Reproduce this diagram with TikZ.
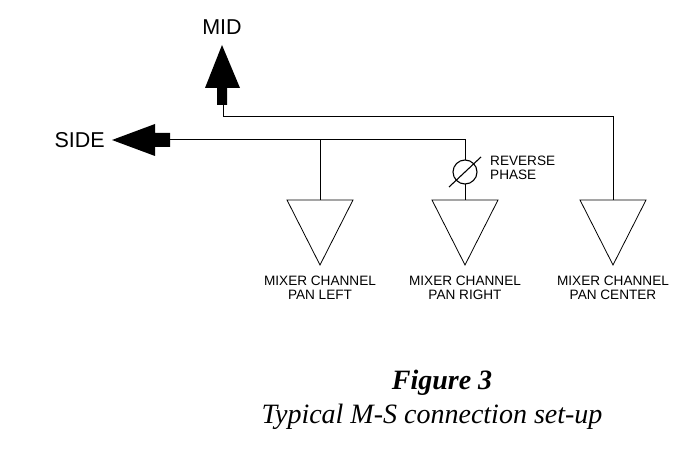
\documentclass[tikz,border=0pt]{standalone}
\usepackage{fontspec}
\setmainfont{Liberation Serif}
\newfontfamily\lsans{Liberation Sans}
\begin{document}
\begin{tikzpicture}[x=1pt,y=-1pt,
  wire/.style={line width=1pt},
  tri/.style={draw,line width=0.8pt},
  lbl/.style={font=\lsans\fontsize{13.6}{14.5}\selectfont,align=center,inner sep=0pt},
  big/.style={font=\lsans\fontsize{21.5}{22}\selectfont,inner sep=0pt}]
\useasboundingbox (0,0) rectangle (695,462);
% MID arrow
\fill (222,45) -- (240,88) -- (227,88) -- (227,105) -- (217,105) -- (217,88) -- (205,88) -- cycle;
\coordinate (mid) at (223,105);
\node[big] (midl) at (222,27) {MID};
% SIDE arrow
\fill (112,140) -- (155,124) -- (155,133) -- (170,133) -- (170,147) -- (155,147) -- (155,156) -- cycle;
\coordinate (side) at (170,140);
\node[big,anchor=east] (sidel) at (105,140) {SIDE};
% triangles
\foreach \n/\c in {l/320,r/465,c/613}{
  \draw[tri] (\c-33,200) -- (\c+33,200) -- (\c,265) -- cycle;
  \coordinate (\n) at (\c,200);
}
\coordinate (lj) at (320,140);
\coordinate (cj) at (613,117);
\draw[wire] (side) -- (465,140) -- (465,160);
\draw[wire] (lj) -- (l);
\draw[wire] (465,184) -- (r);
\draw[wire] (mid) |- (cj) -- (c);
% reverse phase
\node[circle,draw,line width=1.1pt,minimum size=24pt,inner sep=0pt] (ph) at (465,172) {};
\draw[line width=1.1pt] (449,187) -- (481,157);
\node[lbl,align=left,anchor=west] (rp) at (490,168) {REVERSE\\PHASE};
\node[lbl] at (320,288) {MIXER CHANNEL\\PAN LEFT};
\node[lbl] at (465,288) {MIXER CHANNEL\\PAN RIGHT};
\node[lbl] at (613,288) {MIXER CHANNEL\\PAN CENTER};
\node[font=\fontsize{28}{30}\selectfont\bfseries\itshape] (fig) at (442,383) {Figure 3};
\node[font=\fontsize{28}{30}\selectfont\itshape] (cap) at (432,417) {Typical M-S connection set-up};
\end{tikzpicture}
\end{document}
